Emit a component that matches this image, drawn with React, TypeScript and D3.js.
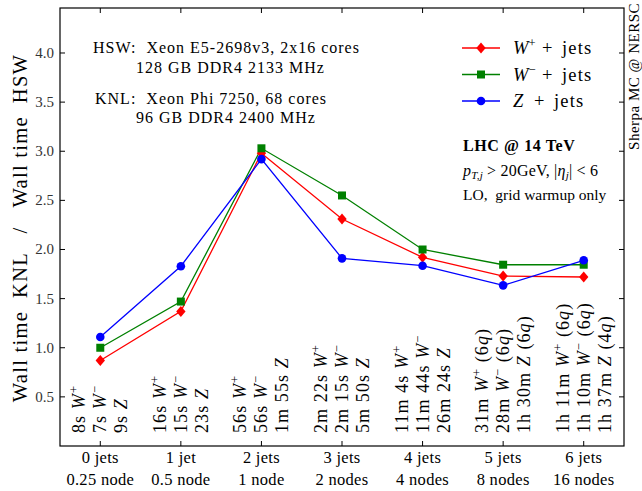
import React from "react";
import * as d3 from "d3";

const categories = ["0 jets", "1 jet", "2 jets", "3 jets", "4 jets", "5 jets", "6 jets"];
const nodes = ["0.25 node", "0.5 node", "1 node", "2 nodes", "4 nodes", "8 nodes", "16 nodes"];
const wPlus = [0.87, 1.37, 2.98, 2.31, 1.92, 1.73, 1.72];
const wMinus = [1.0, 1.47, 3.03, 2.55, 2.0, 1.845, 1.845];
const zJets = [1.11, 1.83, 2.92, 1.91, 1.835, 1.635, 1.89];
const wPlusTime = ["8s", "16s", "56s", "2m 22s", "11m 4s", "31m", "1h 11m"];
const wMinusTime = ["7s", "15s", "56s", "2m 15s", "11m 44s", "28m", "1h 10m"];
const zTime = ["9s", "23s", "1m 55s", "5m 50s", "26m 24s", "1h 30m", "1h 37m"];
const wPlusQ = ["", "", "", "", "", "6", "6"];
const wMinusQ = ["", "", "", "", "", "6", "6"];
const zQ = ["", "", "", "", "", "6", "4"];
const yTicks = [0.5, 1.0, 1.5, 2.0, 2.5, 3.0, 3.5, 4.0];

const FONT = "'Liberation Serif', 'DejaVu Serif', serif";

const W = 642, H = 491;
const L = 60, R = 624, T = 8, B = 446;

export default function App() {
  const x = d3.scaleLinear().domain([-0.5, 6.5]).range([L, R]);
  const y = d3.scaleLinear().domain([0, 4.458]).range([B, T]);
  const idx = categories.map((_, i) => i);
  const line = d3.line<number>().x((d, i) => x(i)).y((d) => y(d));

  const series = [
    { data: wPlus, color: "#ff0000", marker: "diamond", sign: "+", times: wPlusTime, q: wPlusQ, sym: "W" },
    { data: wMinus, color: "#008000", marker: "square", sign: "\u2212", times: wMinusTime, q: wMinusQ, sym: "W" },
    { data: zJets, color: "#0000ff", marker: "circle", sign: "", times: zTime, q: zQ, sym: "Z" },
  ];

  const marker = (kind: string, cx: number, cy: number, color: string, key?: any) => {
    if (kind === "diamond") {
      const s = 5.5;
      return <path key={key} d={`M${cx},${cy - s}L${cx + s * 0.85},${cy}L${cx},${cy + s}L${cx - s * 0.85},${cy}Z`} fill={color} />;
    }
    if (kind === "square") {
      const s = 4;
      return <rect key={key} x={cx - s} y={cy - s} width={2 * s} height={2 * s} fill={color} />;
    }
    return <circle key={key} cx={cx} cy={cy} r={4.3} fill={color} />;
  };

  return (
    <svg width={W} height={H} style={{ position: "absolute", left: 0, top: 0, background: "#fff" }} fontFamily={FONT}>
      <rect x={0} y={0} width={W} height={H} fill="#fff" />
      {/* rotated timing labels */}
      {idx.map((i) =>
        series.map((s, k) => (
          <text
            key={`t${i}${k}`}
            transform={`translate(${x(i) + (k - 1) * 21 + 6},433) rotate(-90)`}
            fontSize={18}
            letterSpacing={1.1}
            fill="#000"
            xmlSpace="preserve"
          >
            {s.times[i] + " "}
            <tspan fontStyle="italic">{s.sym}</tspan>
            {s.sign ? <tspan fontSize="12.5" dy="-7">{s.sign}</tspan> : null}
            {s.q[i] ? (
              <>
                <tspan dy={s.sign ? 7 : 0}>{" (" + s.q[i]}</tspan>
                <tspan fontStyle="italic">q</tspan>
                <tspan>)</tspan>
              </>
            ) : null}
          </text>
        ))
      )}
      {/* lines */}
      {series.map((s, k) => (
        <path key={`l${k}`} d={line(s.data) || ""} fill="none" stroke={s.color} strokeWidth={1.3} />
      ))}
      {series.map((s, k) => (
        <g key={`m${k}`}>{s.data.map((v, i) => marker(s.marker, x(i), y(v), s.color, i))}</g>
      ))}
      {/* frame */}
      <rect x={L} y={T} width={R - L} height={B - T} fill="none" stroke="#000" strokeWidth={1.2} />
      {/* y ticks */}
      {yTicks.map((t) => (
        <g key={`y${t}`}>
          <line x1={L} x2={L + 5} y1={y(t)} y2={y(t)} stroke="#000" />
          <line x1={R} x2={R - 5} y1={y(t)} y2={y(t)} stroke="#000" />
          <text x={L - 6} y={y(t) + 5} textAnchor="end" fontSize={15} fill="#333">
            {t.toFixed(1)}
          </text>
        </g>
      ))}
      {/* x ticks */}
      {idx.map((i) => (
        <g key={`x${i}`}>
          <line x1={x(i)} x2={x(i)} y1={B} y2={B - 5} stroke="#000" />
          <line x1={x(i)} x2={x(i)} y1={T} y2={T + 5} stroke="#000" />
          <text x={x(i)} y={463} textAnchor="middle" fontSize={16.5} letterSpacing={0.3} fill="#000">
            {categories[i]}
          </text>
          <text x={x(i)} y={485} textAnchor="middle" fontSize={16.5} letterSpacing={0.3} fill="#000">
            {nodes[i]}
          </text>
        </g>
      ))}
      {/* y label */}
      <text transform={`translate(27,228) rotate(-90)`} textAnchor="middle" fontSize={20.5} letterSpacing={1.3} fill="#000" xmlSpace="preserve">
        {"Wall time  KNL   /   Wall time  HSW"}
      </text>
      {/* right label */}
      <text transform={`translate(639,3) rotate(-90)`} textAnchor="end" fontSize={15} letterSpacing={0.5} fill="#000">
        Sherpa MC @ NERSC
      </text>
      {/* info text */}
      <g fontSize={16} letterSpacing={1.0} fill="#000">
        <text x={93} y={53} xmlSpace="preserve">{"HSW:  Xeon E5-2698v3, 2x16 cores"}</text>
        <text x={136} y={73}>128 GB DDR4 2133 MHz</text>
        <text x={95} y={104} xmlSpace="preserve">{"KNL:  Xeon Phi 7250, 68 cores"}</text>
        <text x={136} y={123}>96 GB DDR4 2400 MHz</text>
      </g>
      {/* legend */}
      {series.map((s, k) => {
        const ly = 48 + k * 26.5;
        const plusX = s.sign ? 542 : 534;
        const jetsX = s.sign ? 562 : 554;
        return (
          <g key={`lg${k}`}>
            <line x1={462} x2={500} y1={ly} y2={ly} stroke={s.color} strokeWidth={1.3} />
            {marker(s.marker, 481, ly, s.color)}
            <text x={513} y={ly + 6} fontSize={18.5} fill="#000">
              <tspan fontStyle="italic">{s.sym}</tspan>
              {s.sign ? <tspan fontSize="12.5" dy="-7">{s.sign}</tspan> : null}
            </text>
            <text x={plusX} y={ly + 6} fontSize={18.5} fill="#000">+</text>
            <text x={jetsX} y={ly + 6} fontSize={18.5} letterSpacing={1.2} fill="#000">jets</text>
          </g>
        );
      })}
      <g fill="#000">
        <text x={463} y={151} fontWeight="bold" fontSize={16} letterSpacing={0.6}>LHC @ 14 TeV</text>
        <text x={463} y={176} fontSize={16} letterSpacing={0.2} xmlSpace="preserve">
          <tspan fontStyle="italic">p</tspan>
          <tspan fontSize="11" dy="3" fontStyle="italic">T,j</tspan>
          <tspan dy="-3">{" > 20GeV, |"}</tspan>
          <tspan fontStyle="italic">η</tspan>
          <tspan fontSize="11" dy="3" fontStyle="italic">j</tspan>
          <tspan dy="-3">{"| < 6"}</tspan>
        </text>
        <text x={463} y={200} fontSize={15.5} letterSpacing={0} xmlSpace="preserve">{"LO,  grid warmup only"}</text>
      </g>
    </svg>
  );
}
